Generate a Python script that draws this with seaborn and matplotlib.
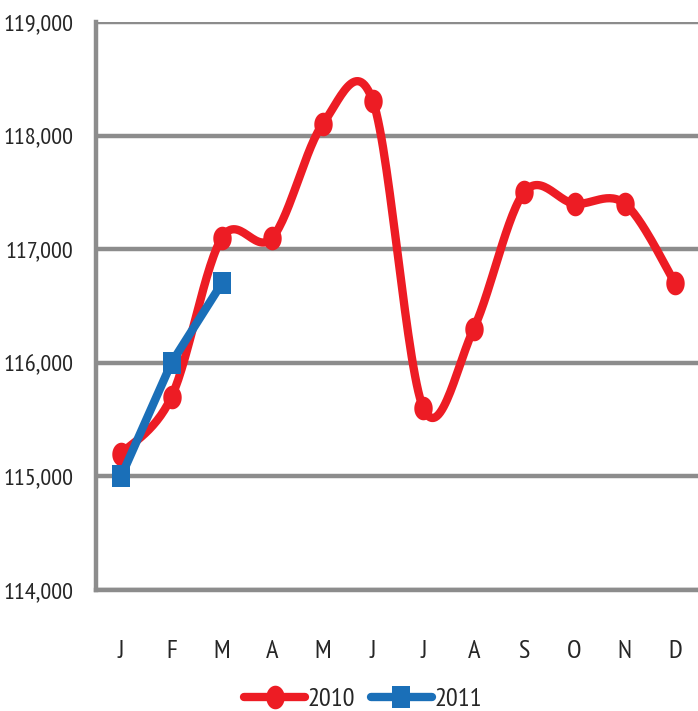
import numpy as np
import pandas as pd
import matplotlib
matplotlib.use('Agg')
import matplotlib.pyplot as plt
from matplotlib.path import Path
import seaborn as sns

# data
months = ['J', 'F', 'M', 'A', 'M', 'J', 'J', 'A', 'S', 'O', 'N', 'D']
jobs_2010 = [115200, 115700, 117100, 117100, 118100, 118300,
             115600, 116300, 117500, 117400, 117400, 116700]
jobs_2011 = [115000, 116000, 116700]
y_ticks = [114000, 115000, 116000, 117000, 118000, 119000]

RED = '#ED1C24'
BLUE = '#1A6FB8'
GRID = '#8C8C8C'

# tall oval / tall box markers like the reference
_t = np.linspace(0, 2 * np.pi, 60)
OVAL = Path(np.column_stack([0.78 * np.cos(_t), np.sin(_t)]))
BOX = Path([(-0.8, -1), (0.8, -1), (0.8, 1), (-0.8, 1), (-0.8, -1)],
           closed=True)


def smooth_curve(xs, ys, steps=30):
    '''Catmull-Rom curve through the points (like a spreadsheet smoothed line)'''
    pts = np.column_stack([xs, ys]).astype(float)
    pts = np.vstack([pts[0], pts, pts[-1]])
    out = []
    for i in range(1, len(pts) - 2):
        p0, p1, p2, p3 = pts[i - 1], pts[i], pts[i + 1], pts[i + 2]
        t = np.linspace(0, 1, steps, endpoint=False)[:, None]
        seg = 0.5 * ((2 * p1) + (-p0 + p2) * t
                     + (2 * p0 - 5 * p1 + 4 * p2 - p3) * t ** 2
                     + (-p0 + 3 * p1 - 3 * p2 + p3) * t ** 3)
        out.append(seg)
    out.append(pts[-2][None, :])
    out = np.vstack(out)
    return out[:, 0], out[:, 1]


sns.set_style('white')
plt.rcParams['font.family'] = ['PT Sans Narrow', 'Roboto Condensed', 'DejaVu Sans']

fig = plt.figure(figsize=(6.98, 7.11), dpi=100)
ax = fig.add_axes([0.1375, 0.1702, 0.866, 0.799])

x2010 = np.arange(len(jobs_2010))
x2011 = np.arange(len(jobs_2011))

sx, sy = smooth_curve(x2010, jobs_2010)
curve = pd.DataFrame({'x': sx, 'y': sy})
sns.lineplot(data=curve, x='x', y='y', sort=False, color=RED, lw=6,
             ax=ax, zorder=3)
ax.plot(x2010, jobs_2010, ls='none', marker=OVAL, ms=17, mew=0,
        color=RED, zorder=4)

df11 = pd.DataFrame({'x': x2011, 'y': jobs_2011})
sns.lineplot(data=df11, x='x', y='y', color=BLUE, lw=6, ax=ax, zorder=5)
ax.plot(x2011, jobs_2011, ls='none', marker=BOX, ms=16, mew=0,
        color=BLUE, zorder=6)

ax.set_xlim(-0.5, 11.5)
ax.set_ylim(y_ticks[0], y_ticks[-1])
ax.set_yticks(y_ticks)
ax.set_yticklabels([f'{v:,}' for v in y_ticks])
ax.set_xticks(range(len(months)))
ax.set_xticklabels(months)
ax.set_xticks(np.arange(-0.5, 12, 1), minor=True)
ax.set_xlabel('')
ax.set_ylabel('')

ax.tick_params(axis='x', which='major', length=0, pad=36, labelsize=19)
ax.tick_params(axis='x', which='minor', length=11, width=3, color=GRID,
               direction='out')
ax.tick_params(axis='y', length=8, width=3, color=GRID, direction='out',
               pad=8, labelsize=17.5)

ax.yaxis.grid(True, color=GRID, lw=3.2)
ax.set_axisbelow(True)
for side in ['top', 'right']:
    ax.spines[side].set_visible(False)
for side in ['left', 'bottom']:
    ax.spines[side].set_color(GRID)
    ax.spines[side].set_linewidth(3.2)

handles = [
    plt.Line2D([], [], color=RED, lw=6, marker=OVAL, ms=17, mew=0),
    plt.Line2D([], [], color=BLUE, lw=6, marker=BOX, ms=16, mew=0),
]
fig.legend(handles, ['2010', '2011'], loc='lower center', ncol=2,
           bbox_to_anchor=(0.52, -0.034), frameon=False, fontsize=19,
           handlelength=2.3, handletextpad=0.1, columnspacing=0.6)

fig.savefig('out.png', dpi=100)
